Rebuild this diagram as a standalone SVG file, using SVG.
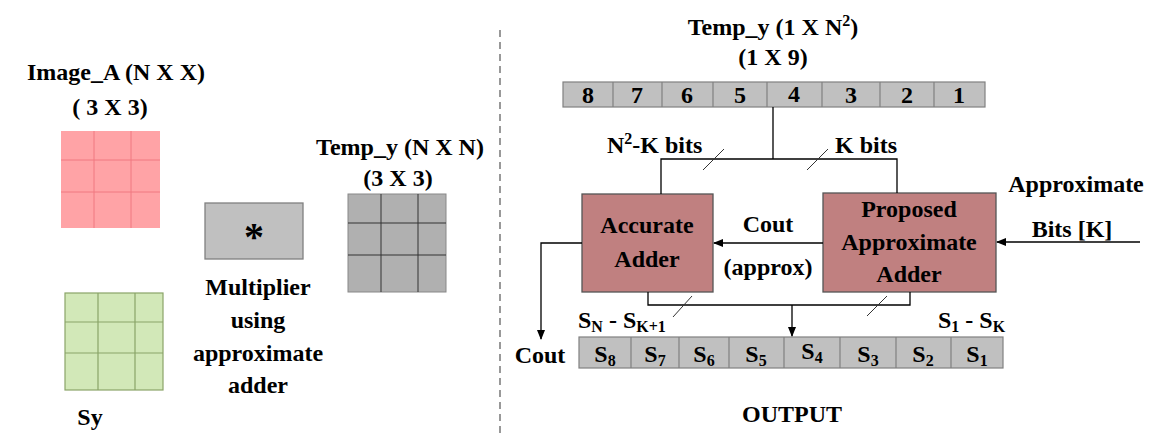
<svg xmlns="http://www.w3.org/2000/svg" width="1166" height="433" viewBox="0 0 1166 433">
<rect width="1166" height="433" fill="#fff"/>
<defs>
<marker id="ah" markerWidth="10" markerHeight="8" refX="9" refY="4" orient="auto" markerUnits="userSpaceOnUse">
<path d="M0,0 L10,4 L0,8 Z" fill="#000"/>
</marker>
</defs>
<g font-family="Liberation Serif" font-weight="bold" font-size="24">
<g id="imageA">
<text x="116" y="80" text-anchor="middle">Image_A (N X X)</text>
<text x="110" y="115" text-anchor="middle">( 3 X 3)</text>
<rect x="61" y="131" width="99" height="97" fill="#ffa3a6"/>
<path d="M94,131V228M131,131V228M61,160H160M61,192H160" stroke="#f07880" stroke-width="1"/>
</g>

<g id="sy">
<rect x="65" y="293" width="98" height="97" fill="#d2e8b8" stroke="#8aa468" stroke-width="1.2"/>
<path d="M98,293V390M135,293V390M65,322H163M65,353H163" stroke="#8aa468" stroke-width="1.2"/>
<text x="90" y="425" text-anchor="middle">Sy</text>
</g>

<g id="multiplier">
<rect x="205" y="203" width="98" height="56" fill="#c0c0c0" stroke="#808080" stroke-width="1.3"/>
<text x="254" y="250" text-anchor="middle" font-size="40">*</text>
<text x="258" y="295" text-anchor="middle">Multiplier</text>
<text x="258" y="328" text-anchor="middle">using</text>
<text x="258" y="361" text-anchor="middle">approximate</text>
<text x="258" y="393" text-anchor="middle">adder</text>
</g>

<g id="tempyNN">
<text x="400" y="155" text-anchor="middle">Temp_y (N X N)</text>
<text x="398" y="186" text-anchor="middle">(3 X 3)</text>
<rect x="348" y="194" width="98" height="98" fill="#b0b0b0" stroke="#888" stroke-width="1"/>
<path d="M381,194V292M418,194V292M348,223H446M348,255H446" stroke="#333" stroke-width="1"/>
</g>

<line x1="500" y1="30" x2="500" y2="433" stroke="#555" stroke-width="1.2" stroke-dasharray="7,5"/>

<g id="tempy1">
<text x="773" y="35" text-anchor="middle">Temp_y (1 X N<tspan font-size="16" dy="-9">2</tspan><tspan dy="9">)</tspan></text>
<text x="773" y="65" text-anchor="middle">(1 X 9)</text>
<rect x="563" y="82" width="422" height="25" fill="#c0c0c0" stroke="#808080" stroke-width="1.2"/>
<path d="M613,82V107M662,82V107M713,82V107M767,82V107M822,82V107M880,82V107M934,82V107" stroke="#808080" stroke-width="1.2"/>
<g text-anchor="middle">
<text x="588" y="103">8</text>
<text x="637" y="103">7</text>
<text x="687" y="103">6</text>
<text x="740" y="103">5</text>
<text x="794" y="102">4</text>
<text x="851" y="103">3</text>
<text x="907" y="103">2</text>
<text x="959" y="103">1</text>
</g>
</g>

<g id="accurate">
<rect x="582" y="194" width="131" height="98" fill="#c08080" stroke="#555" stroke-width="1.3"/>
<text x="647" y="233" text-anchor="middle">Accurate</text>
<text x="647" y="267" text-anchor="middle">Adder</text>
</g>

<g id="proposed">
<rect x="823" y="193" width="173" height="99" fill="#c08080" stroke="#555" stroke-width="1.3"/>
<text x="909" y="217" text-anchor="middle">Proposed</text>
<text x="909" y="250" text-anchor="middle">Approximate</text>
<text x="909" y="282" text-anchor="middle">Adder</text>
</g>

<g id="output">
<rect x="579" y="337" width="424" height="31" fill="#c0c0c0" stroke="#808080" stroke-width="1.2"/>
<path d="M631,337V368M679,337V368M729,337V368M784,337V368M840,337V368M896,337V368M951,337V368" stroke="#808080" stroke-width="1.2"/>
<g text-anchor="middle">
<text x="605" y="362">S<tspan font-size="16" dy="4">8</tspan></text>
<text x="655" y="362">S<tspan font-size="16" dy="4">7</tspan></text>
<text x="704" y="362">S<tspan font-size="16" dy="4">6</tspan></text>
<text x="756" y="362">S<tspan font-size="16" dy="4">5</tspan></text>
<text x="812" y="359">S<tspan font-size="16" dy="4">4</tspan></text>
<text x="868" y="362">S<tspan font-size="16" dy="4">3</tspan></text>
<text x="923" y="362">S<tspan font-size="16" dy="4">2</tspan></text>
<text x="977" y="362">S<tspan font-size="16" dy="4">1</tspan></text>
<text x="792" y="422">OUTPUT</text>
</g>
</g>

<g id="connectors">
<g stroke="#000" stroke-width="1.3" fill="none">
<path d="M773,107V159M661,194V159H897V193"/>
<line x1="823" y1="243" x2="714" y2="243" marker-end="url(#ah)"/>
<line x1="1140" y1="242" x2="997" y2="242" marker-end="url(#ah)"/>
<path d="M582,243H541V339" marker-end="url(#ah)"/>
<path d="M648,292V305H910V292"/>
<path d="M792,305V336" marker-end="url(#ah)"/>
</g>
<path d="M703,170L724,149M807,170L828,149M673,317L692,296M867,316L887,296" stroke="#333" stroke-width="1" fill="none"/>
<text x="607" y="153">N<tspan font-size="16" dy="-9">2</tspan><tspan dy="9">-K bits</tspan></text>
<text x="835" y="153">K bits</text>
<text x="768" y="232" text-anchor="middle">Cout</text>
<text x="768" y="275" text-anchor="middle">(approx)</text>
<text x="1076" y="192" text-anchor="middle">Approximate</text>
<text x="1072" y="237" text-anchor="middle">Bits [K]</text>
<text x="540" y="363" text-anchor="middle">Cout</text>
<text x="578" y="328">S<tspan font-size="16" dy="4">N</tspan><tspan dy="-4"> - S</tspan><tspan font-size="16" dy="4">K+1</tspan></text>
<text x="938" y="328">S<tspan font-size="16" dy="4">1</tspan><tspan dy="-4"> - S</tspan><tspan font-size="16" dy="4">K</tspan></text>
</g>
</g>
</svg>
